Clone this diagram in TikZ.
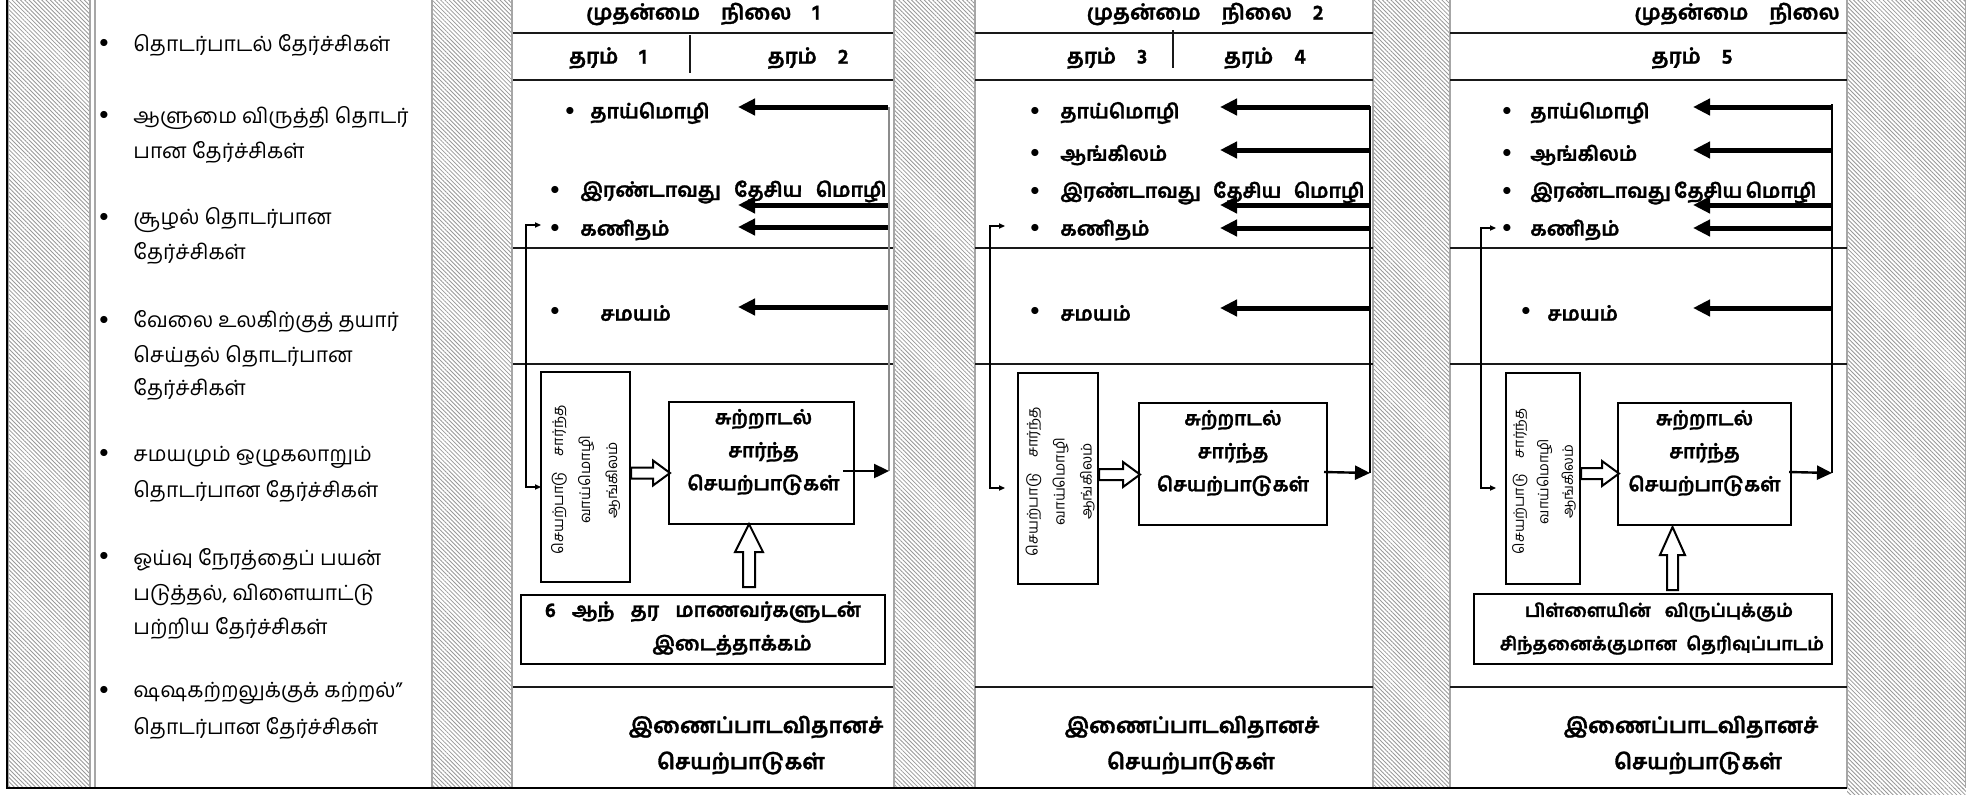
\documentclass[tikz,border=0pt]{standalone}
\usepackage{fontspec}
\setmainfont[Script=Tamil,BoldFeatures={FakeBold=1.3}]{Hind Madurai}
\usetikzlibrary{patterns.meta,arrows.meta,fit,calc}
\tikzset{
  hatchfill/.style={pattern={Lines[angle=-45,distance=1.5pt,line width=0.42pt]},pattern color=black!40},
  hatchedge/.style={draw=black!35,line width=0.8pt},
  rule/.style={line width=1.1pt,black!90},
  lc/.style={font=\fontsize{10.5}{12}\selectfont,anchor=west,inner sep=0pt},
  item/.style={font=\bfseries\fontsize{10}{12}\selectfont,anchor=west,inner sep=0pt},
  smitem/.style={font=\bfseries\fontsize{9.1}{12}\selectfont,inner sep=0pt},
  hdr/.style={font=\bfseries\fontsize{10.5}{12}\selectfont,inner sep=0pt},
  btm/.style={font=\bfseries\fontsize{10.8}{14}\selectfont,inner sep=0pt},
  boxtxt/.style={font=\bfseries\fontsize{9.8}{16.5}\selectfont,inner sep=0pt,align=center},
  vtxt/.style={font=\fontsize{7.4}{13.5}\selectfont,inner sep=0pt,align=center,rotate=90},
  vtxtn/.style={font=\fontsize{7.2}{12.3}\selectfont,inner sep=0pt,align=center,rotate=90},
  bul/.style={inner sep=0pt,font=\fontsize{9}{10}\selectfont},
  framebox/.style={draw,line width=1pt,inner sep=0pt},
  bigarrow/.style={line width=2.5pt,-{Triangle[length=8.5pt,width=8pt]}},
  outarrow/.style={line width=1.2pt,-{Triangle[length=7.5pt,width=7pt]}},
  fbarrow/.style={line width=0.6pt,{Triangle[length=3pt,width=2.6pt]}-{Triangle[length=3pt,width=2.6pt]}},
  hollow/.style={draw,line width=1pt,fill=white,line join=miter},
}
\newcommand\vlabel{செயற்பாடு\hspace{6pt} சார்ந்த\\வாய்மொழி\\ஆங்கிலம்}
\begin{document}
\begin{tikzpicture}[x=0.5pt,y=-0.5pt]
\useasboundingbox[fill=white] (0,0) rectangle (1966,794);
% hatched strips
\foreach \a/\b in {8/90,432/512,894/975,1373/1450,1847/1966}{
  \fill[hatchfill] (\a,0) rectangle (\b,788);
  \draw[hatchedge] (\a,0) -- (\a,788) (\b,0) -- (\b,788);
}
\fill[hatchfill] (1847,788) rectangle (1966,794);
\draw[hatchedge] (95,0) -- (95,788);
\draw[line width=1.4pt] (7,0) -- (7,789);
\draw[line width=1.3pt] (7,788) -- (1847,788);

% ---------- left column ----------
\foreach \y in {43,115,217,320,453,556,690}{\node[bul] at (104,\y) {$\bullet$};}
\node[lc] (l1) at (133,45) {தொடர்பாடல் தேர்ச்சிகள்};
\node[lc] (l2a) at (133,118) {ஆளுமை விருத்தி தொடர்};
\node[lc] (l2b) at (133,152) {பான தேர்ச்சிகள்};
\node[lc] (l3a) at (133,220) {சூழல் தொடர்பான};
\node[lc] (l3b) at (133,253) {தேர்ச்சிகள்};
\node[lc] (l4a) at (133,322) {வேலை உலகிற்குத் தயார்};
\node[lc] (l4b) at (133,356) {செய்தல் தொடர்பான};
\node[lc] (l4c) at (133,389) {தேர்ச்சிகள்};
\node[lc] (l5a) at (133,457) {சமயமும் ஒழுகலாறும்};
\node[lc] (l5b) at (133,491) {தொடர்பான தேர்ச்சிகள்};
\node[lc] (l6a) at (133,560) {ஓய்வு நேரத்தைப் பயன்};
\node[lc] (l6b) at (133,595) {படுத்தல், விளையாட்டு};
\node[lc] (l6c) at (133,628) {பற்றிய தேர்ச்சிகள்};
\node[lc] (l7a) at (133,693) {ஷஷகற்றலுக்குக் கற்றல்”};
\node[lc] (l7b) at (133,728) {தொடர்பான தேர்ச்சிகள்};

% ---------- panel rules ----------
\foreach \l/\r in {513/893,975/1373,1450/1847}{
  \foreach \y in {33,80,248,364,687}{\draw[rule] (\l,\y) -- (\r,\y);}
}

% ---------- panel 1 ----------
\node[hdr] (h1) at (703,14) {முதன்மை\quad நிலை\quad 1};
\node[hdr] (g1) at (608,58) {தரம்\quad 1};
\node[hdr] (g2) at (808,58) {தரம்\quad 2};
\draw[rule] (690,35) -- (690,73);
\node[bul] at (570,111) {$\bullet$};
\node[item] (p1a) at (590,113) {தாய்மொழி};
\node[bul] at (555,190) {$\bullet$};
\node[item] (p1b) at (580,192) {\makebox[153pt][s]{இரண்டாவது தேசிய மொழி}};
\node[bul] at (555,228) {$\bullet$};
\node[item] (p1c) at (580,230) {கணிதம்};
\node[bul] at (555,311) {$\bullet$};
\node[item] (p1d) at (600,313) {சமயம்};
\foreach \y [count=\i] in {107,205,227,307}{
  \coordinate (s1\i) at (888,\y); \coordinate (d1\i) at (738,\y);
  \draw[bigarrow] (s1\i) -- (d1\i);
}
\coordinate (r1top) at (889,107); \coordinate (r1) at (889,471);
\draw[black!45,line width=0.9pt] (r1top) -- (r1);
\node[framebox,fit={(541,372) (630,582)}] (v1) {};
\node[vtxt] at ($(v1.center)+(0,3)$) {\vlabel};
\node[framebox,fit={(669,402) (854,524)}] (m1) {};
\node[boxtxt] at ($(m1.center)+(2,-11)$) {சுற்றாடல்\\சார்ந்த\\செயற்பாடுகள்};
\node[framebox,fit={(521,595) (885,664)}] (b1) {};
\node[item,anchor=center] at (703,612) {\makebox[158pt][s]{6 ஆந் தர மாணவர்களுடன்}};
\node[item,anchor=center] at (732,645) {இடைத்தாக்கம்};
\coordinate (fa1) at (541,225); \coordinate (fb1) at (541,487);
\draw[fbarrow] (fa1) -- ++(-15,0) |- (fb1);
\draw[hollow] ($(v1.east)+(0,-9.5)$) -- ++(22,0) -- ++(0,-7) -- ++(17,12.5) -- ++(-17,12.5) -- ++(0,-7) -- ++(-22,0) -- cycle;
\draw[hollow] ($(b1.north)+(40,-7)$) -- ++(0,-35) -- ++(-8,0) -- ++(14,-28) -- ++(14,28) -- ++(-8,0) -- ++(0,35) -- cycle;
\draw[outarrow] ($(m1.east)+(-12,8)$) -- (r1);
\node[btm] at (756,727) {இணைப்பாடவிதானச்};
\node[btm] at (741,763) {செயற்பாடுகள்};

% ---------- panel 2 ----------
\node[hdr] (h2) at (1205,14) {முதன்மை\quad நிலை\quad 2};
\node[hdr] (g3) at (1107,58) {தரம்\quad 3};
\node[hdr] (g4) at (1265,58) {தரம்\quad 4};
\draw[rule] (1173,30) -- (1173,68);
\foreach \y in {111,153,191,228,311}{\node[bul] at (1035,\y) {$\bullet$};}
\node[item] (p2a) at (1060,113) {தாய்மொழி};
\node[item] (p2b) at (1060,155) {ஆங்கிலம்};
\node[item] (p2c) at (1060,193) {\makebox[152pt][s]{இரண்டாவது தேசிய மொழி}};
\node[item] (p2d) at (1060,230) {கணிதம்};
\node[item] (p2e) at (1060,313) {சமயம்};
\foreach \y [count=\i] in {107,150,205,228,308}{
  \coordinate (s2\i) at (1370,\y); \coordinate (d2\i) at (1220,\y);
  \draw[bigarrow] (s2\i) -- (d2\i);
}
\coordinate (r2top) at (1370,106); \coordinate (r2) at (1370,473);
\draw[line width=1pt] (r2top) -- (r2);
\node[framebox,fit={(1018,373) (1098,584)}] (v2) {};
\node[vtxt] at ($(v2.center)+(2,3)$) {\vlabel};
\node[framebox,fit={(1139,403) (1327,525)}] (m2) {};
\node[boxtxt] at ($(m2.center)+(0,-11)$) {சுற்றாடல்\\சார்ந்த\\செயற்பாடுகள்};
\coordinate (fa2) at (1005,226); \coordinate (fb2) at (1005,488);
\draw[fbarrow] (fa2) -- ++(-15,0) |- (fb2);
\draw[hollow] ($(v2.east)+(0,-9.5)$) -- ++(24,0) -- ++(0,-7) -- ++(17,12.5) -- ++(-17,12.5) -- ++(0,-7) -- ++(-24,0) -- cycle;
\draw[outarrow] ($(m2.east)+(-4,8)$) -- (r2);
\node[btm] at (1192,727) {இணைப்பாடவிதானச்};
\node[btm] at (1191,763) {செயற்பாடுகள்};

% ---------- panel 3 ----------
\node[hdr] (h3) at (1737,14) {முதன்மை\quad நிலை};
\node[hdr] (g5) at (1692,58) {தரம்\quad 5};
\foreach \y in {111,153,191,228}{\node[bul] at (1507,\y) {$\bullet$};}
\node[bul] at (1526,311) {$\bullet$};
\node[item] (p3a) at (1530,113) {தாய்மொழி};
\node[item] (p3b) at (1530,155) {ஆங்கிலம்};
\node[item] (p3c) at (1530,193) {\makebox[141pt][s]{இரண்டாவது தேசிய மொழி}};
\node[item] (p3d) at (1530,230) {கணிதம்};
\node[item] (p3e) at (1547,313) {சமயம்};
\foreach \y [count=\i] in {107,150,205,228,308}{
  \coordinate (s3\i) at (1832,\y); \coordinate (d3\i) at (1693,\y);
  \draw[bigarrow] (s3\i) -- (d3\i);
}
\coordinate (r3top) at (1832,104); \coordinate (r3) at (1832,473);
\draw[line width=1pt] (r3top) -- (r3);
\node[framebox,fit={(1506,373) (1580,584)}] (v3) {};
\node[vtxtn] at ($(v3.center)+(1,3)$) {\vlabel};
\node[framebox,fit={(1618,403) (1791,525)}] (m3) {};
\node[boxtxt] at ($(m3.center)+(0,-11)$) {சுற்றாடல்\\சார்ந்த\\செயற்பாடுகள்};
\node[framebox,fit={(1474,594) (1832,664)}] (b3) {};
\node[smitem] at (1659,612) {\makebox[134pt][s]{பிள்ளையின் விருப்புக்கும்}};
\node[smitem] at (1662,645) {\makebox[162pt][s]{சிந்தனைக்குமான தெரிவுப்பாடம்}};
\coordinate (fa3) at (1496,228); \coordinate (fb3) at (1496,488);
\draw[fbarrow] (fa3) -- ++(-15,0) |- (fb3);
\draw[hollow] ($(v3.east)+(0,-10.5)$) -- ++(21,0) -- ++(0,-7) -- ++(17,12.5) -- ++(-17,12.5) -- ++(0,-7) -- ++(-21,0) -- cycle;
\draw[hollow] ($(b3.north)+(14,-3)$) -- ++(0,-35) -- ++(-7,0) -- ++(12.5,-28) -- ++(12.5,28) -- ++(-7,0) -- ++(0,35) -- cycle;
\draw[outarrow] ($(m3.east)+(-3,8)$) -- (r3);
\node[btm] at (1691,727) {இணைப்பாடவிதானச்};
\node[btm] at (1698,763) {செயற்பாடுகள்};
\end{tikzpicture}
\end{document}
